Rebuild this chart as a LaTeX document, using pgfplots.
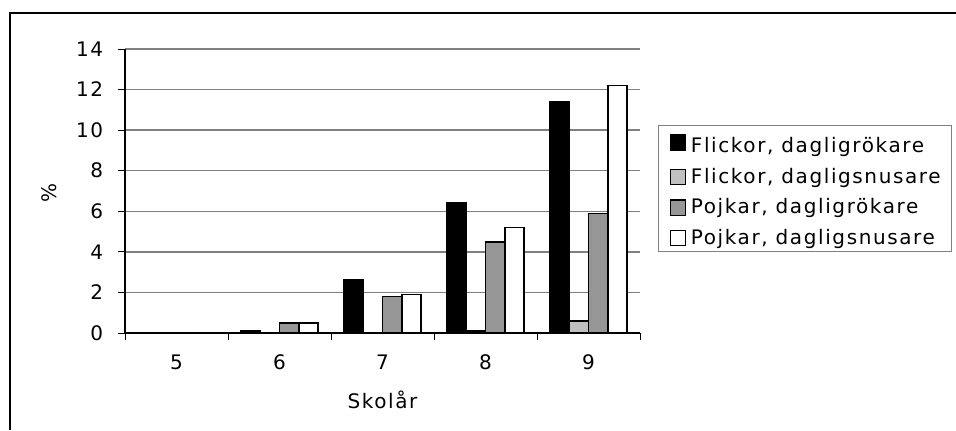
\documentclass[border=0pt]{standalone}
\usepackage{fontspec}
\setmainfont{DejaVu Sans}[LetterSpace=8]
\usepackage{pgfplots}
\pgfplotsset{compat=1.18}

\definecolor{lightbar}{RGB}{192,192,192}
\definecolor{midbar}{RGB}{150,150,150}
\definecolor{gridgray}{RGB}{128,128,128}

\pgfplotsset{
  sqlegend/.style={legend image code/.code={%
    \draw[##1, line width=0.9pt] (0pt,-5.7pt) rectangle (11.4pt,5.7pt);}},
}

\begin{document}
\fontsize{15pt}{18pt}\selectfont
\begin{tikzpicture}
\path[use as bounding box] (0pt,0pt) rectangle (717pt,322.5pt);
% frame round the chart (left and top edges)
\draw[line width=1.5pt, black] (7.5pt,0pt) -- (7.5pt,312.75pt) -- (717pt,312.75pt);

\begin{axis}[
  at={(93.75pt,72.75pt)}, anchor=south west,
  scale only axis, width=386.25pt, height=213pt,
  xmin=-0.5, xmax=4.5, ymin=0, ymax=14,
  ybar=0pt, bar width=14.4pt,
  axis x line*=bottom, axis y line*=left,
  axis line style={black, line width=0.9pt},
  ytick={0,2,...,14},
  ymajorgrids, major grid style={gridgray, line width=1pt},
  xtick={0,...,4}, xticklabels={5,6,7,8,9},
  minor xtick={-0.5,0.5,...,4.5},
  tick align=outside,
  major tick length=5.25pt, minor tick length=5.25pt,
  tick style={black, line width=0.75pt},
  every major x tick/.append style={draw=none},
  /pgf/number format/assume math mode=true,
  ticklabel style={font=\fontsize{15pt}{18pt}\selectfont},
  xticklabel style={anchor=north, inner sep=0pt, yshift=-11pt},
  yticklabel style={anchor=east, inner sep=0pt, xshift=-11pt},
  xlabel={Skolår},
  xlabel style={at={(axis description cs:0.5,-0.236)}, anchor=center, inner sep=0pt,
                font=\fontsize{15pt}{18pt}\selectfont},
  ylabel={\%},
  ylabel style={at={(axis description cs:-0.1476,0.493)}, anchor=center, inner sep=0pt,
                font=\fontsize{15pt}{18pt}\selectfont},
  legend cell align=left,
  legend style={
    at={(axis description cs:1.035,0.7324)}, anchor=north west,
    draw=gridgray, line width=0.75pt,
    inner xsep=8.5pt, inner ysep=3pt, row sep=9.15pt,
    nodes={inner sep=0pt, font=\fontsize{15pt}{18pt}\selectfont},
    /tikz/every odd column/.append style={column sep=3.5pt},
  },
]
\addplot[fill=black, draw=black, line width=1.2pt, sqlegend]
  coordinates {(0,0) (1,0.1) (2,2.6) (3,6.4) (4,11.4)};
\addlegendentry{\rule{0pt}{17.5pt}Flickor, dagligrökare}
\addplot[fill=lightbar, draw=black, line width=1.2pt, sqlegend]
  coordinates {(0,0) (1,0) (2,0) (3,0.1) (4,0.6)};
\addlegendentry{Flickor, dagligsnusare}
\addplot[fill=midbar, draw=black, line width=1.2pt, sqlegend]
  coordinates {(0,0) (1,0.5) (2,1.8) (3,4.5) (4,5.9)};
\addlegendentry{Pojkar, dagligrökare}
\addplot[fill=white, draw=black, line width=1.2pt, sqlegend]
  coordinates {(0,0) (1,0.5) (2,1.9) (3,5.2) (4,12.2)};
\addlegendentry{Pojkar, dagligsnusare}
\end{axis}
\end{tikzpicture}
\end{document}
